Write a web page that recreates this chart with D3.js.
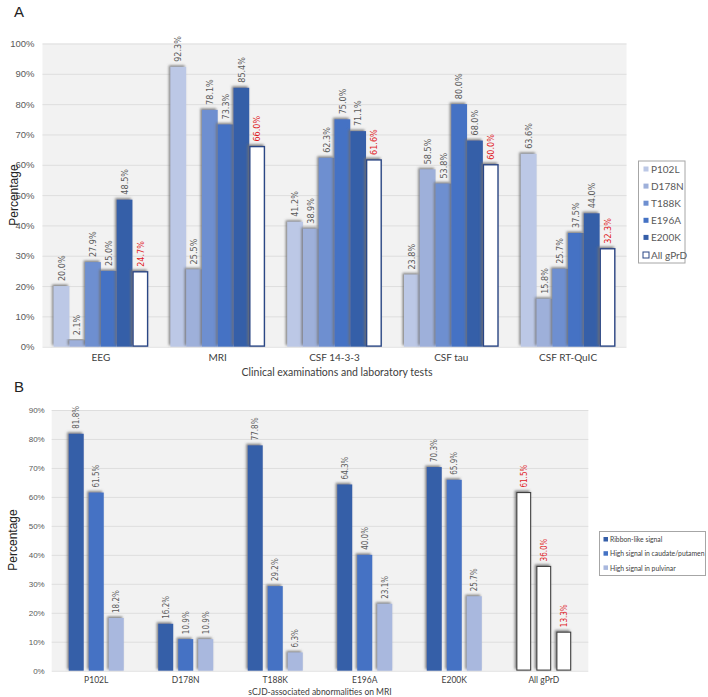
<!DOCTYPE html>
<html><head><meta charset="utf-8">
<script src="https://cdn.jsdelivr.net/npm/d3@7"></script>
<style>
body{margin:0;background:#fff;}
svg{display:block;font-family:Lato,"Liberation Sans",sans-serif;}
</style></head>
<body><svg id="c" width="708" height="697"></svg>
<script>
// ---- Panel A data ----
const testsA = ["EEG","MRI","CSF 14-3-3","CSF tau","CSF RT-QuIC"];
const seriesA = ["P102L","D178N","T188K","E196A","E200K","All gPrD"];
const P102L = [20.0, 92.3, 41.2, 23.8, 63.6];
const D178N = [2.1, 25.5, 38.9, 58.5, 15.8];
const T188K = [27.9, 78.1, 62.3, 53.8, 25.7];
const E196A = [25.0, 73.3, 75.0, 80.0, 37.5];
const E200K = [48.5, 85.4, 71.1, 68.0, 44.0];
const AllA  = [24.7, 66.0, 61.6, 60.0, 32.3];
const ticksA = [0,10,20,30,40,50,60,70,80,90,100];

// ---- Panel B data ----
const groupsB = ["P102L","D178N","T188K","E196A","E200K","All gPrD"];
const seriesB = ["Ribbon-like signal","High signal in caudate/putamen","High signal in pulvinar"];
const ribbon   = [81.8, 16.2, 77.8, 64.3, 70.3, 61.5];
const caudate  = [61.5, 10.9, 29.2, 40.0, 65.9, 36.0];
const pulvinar = [18.2, 10.9, 6.3, 23.1, 25.7, 13.3];
const ticksB = [0,10,20,30,40,50,60,70,80,90];

const svg = d3.select("#c");
const defs = svg.append("defs");
const f = defs.append("filter").attr("id","sh").attr("x","-50%").attr("y","-20%").attr("width","200%").attr("height","140%");
f.append("feDropShadow").attr("dx",-1.5).attr("dy",-1.5).attr("stdDeviation",1.1)
 .attr("flood-color","#6e6e6e").attr("flood-opacity",0.85);

const colA = ["#bcc8e6","#9eb0da","#6e8fd0","#4472c4","#355ea8","#ffffff"];
const colB = ["#355ea8","#4472c4","#a9b8de"];

// ================= Panel A =================
(function(){
  const L=42.5, R=626.5, T=43.5, B=346.7;
  const valsA = [P102L,D178N,T188K,E196A,E200K,AllA];
  const x0 = d3.scaleBand().domain(testsA).range([L,R]).paddingInner(0.19).paddingOuter(0.095);
  const x1 = d3.scaleBand().domain(seriesA).range([0,x0.bandwidth()]).padding(0);
  const y = d3.scaleLinear().domain([0,100]).range([B,T]);
  const g = svg.append("g");
  g.append("text").attr("x",14).attr("y",17).attr("font-size",15).attr("font-family","Liberation Sans, sans-serif").attr("fill","#222").text("A");
  g.append("rect").attr("x",L).attr("y",T).attr("width",R-L).attr("height",B-T).attr("fill","#f2f2f2");
  const ax = d3.axisLeft(y).tickValues(ticksA).tickFormat(d=>d+"%").tickSize(-(R-L)).tickPadding(8);
  const ga = g.append("g").attr("transform",`translate(${L},0)`).call(ax);
  ga.select(".domain").remove();
  ga.selectAll(".tick line").attr("stroke","#dedede");
  ga.selectAll(".tick text").attr("font-size",9.5).attr("fill","#595959");
  testsA.forEach((t,i)=>{
    const gg = g.append("g").attr("transform",`translate(${x0(t)},0)`);
    seriesA.forEach((s,j)=>{
      const v = valsA[j][i];
      const last = j===seriesA.length-1;
      gg.append("rect").attr("x",x1(s)+(last?0.6:0)).attr("y",y(v)).attr("width",x1.bandwidth()-(last?1.2:0)).attr("height",B-y(v)-(last?0.6:0))
        .attr("fill",colA[j]).attr("stroke",last?"#2b4785":"none").attr("stroke-width",last?1.4:0)
        .attr("filter","url(#sh)");
      const cx = x1(s)+x1.bandwidth()/2;
      gg.append("text").attr("transform",`translate(${cx+3.2},${y(v)-5}) rotate(-90)`)
        .attr("font-size",9).attr("fill",last?"#e0191f":"#595959")
        .attr("font-family","DejaVu Sans Condensed, DejaVu Sans, sans-serif")
        .text(v.toFixed(1)+"%");
    });
    g.append("text").attr("x",x0(t)+x0.bandwidth()/2).attr("y",361).attr("text-anchor","middle")
      .attr("font-size",10).attr("fill","#404040").text(t);
  });
  g.append("text").attr("x",337).attr("y",376).attr("text-anchor","middle").attr("font-size",10.5).attr("fill","#404040")
    .text("Clinical examinations and laboratory tests");
  g.append("text").attr("transform",`translate(18,${(T+B)/2}) rotate(-90)`).attr("text-anchor","middle")
    .attr("font-size",12).attr("font-family","Liberation Sans, sans-serif").attr("fill","#222").text("Percentage");
  // legend
  const lg = g.append("g");
  lg.append("rect").attr("x",638.5).attr("y",161).attr("width",46.5).attr("height",102).attr("fill","#fff").attr("stroke","#a6a6a6");
  seriesA.forEach((s,j)=>{
    const yy = 169.5 + j*17.1;
    const last = j===seriesA.length-1;
    lg.append("rect").attr("x",last?643:643.5).attr("y",yy-3).attr("width",last?6:5).attr("height",last?6:5)
      .attr("fill",colA[j]).attr("stroke",last?"#2b4785":"none").attr("stroke-width",1);
    lg.append("text").attr("x",651).attr("y",yy+3.5).attr("font-size",10).attr("fill","#595959").text(s);
  });
})();

// ================= Panel B =================
(function(){
  const L=51.7, R=588.3, T=410, B=670.7;
  const valsB = [ribbon,caudate,pulvinar];
  const x0 = d3.scaleBand().domain(groupsB).range([L,R]).paddingInner(0.385).paddingOuter(0.19);
  const x1 = d3.scaleBand().domain(seriesB).range([0,x0.bandwidth()]).paddingInner(0.25).paddingOuter(0);
  const y = d3.scaleLinear().domain([0,90]).range([B,T]);
  const g = svg.append("g");
  g.append("text").attr("x",14).attr("y",392).attr("font-size",15).attr("font-family","Liberation Sans, sans-serif").attr("fill","#222").text("B");
  g.append("rect").attr("x",L).attr("y",T).attr("width",R-L).attr("height",B-T).attr("fill","#f2f2f2");
  const ax = d3.axisLeft(y).tickValues(ticksB).tickFormat(d=>d+"%").tickSize(-(R-L)).tickPadding(7);
  const ga = g.append("g").attr("transform",`translate(${L},0)`).call(ax);
  ga.select(".domain").remove();
  ga.selectAll(".tick line").attr("stroke","#dedede");
  ga.selectAll(".tick text").attr("font-size",8).attr("fill","#595959");
  groupsB.forEach((t,i)=>{
    const gg = g.append("g").attr("transform",`translate(${x0(t)},0)`);
    const all = i===groupsB.length-1;
    seriesB.forEach((s,j)=>{
      const v = valsB[j][i];
      gg.append("rect").attr("x",x1(s)+(all?0.6:0)).attr("y",y(v)).attr("width",x1.bandwidth()-(all?1.2:0)).attr("height",B-y(v)-(all?0.6:0))
        .attr("fill",all?"#ffffff":colB[j]).attr("stroke",all?"#404040":"none").attr("stroke-width",all?1.1:0)
        .attr("filter","url(#sh)");
      const cx = x1(s)+x1.bandwidth()/2;
      gg.append("text").attr("transform",`translate(${cx+3},${y(v)-5}) rotate(-90)`)
        .attr("font-size",8).attr("fill",all?"#e0191f":"#595959")
        .attr("font-family","DejaVu Sans Condensed, DejaVu Sans, sans-serif")
        .text(v.toFixed(1)+"%");
    });
    g.append("text").attr("x",x0(t)+x0.bandwidth()/2).attr("y",683).attr("text-anchor","middle")
      .attr("font-size",8.5).attr("fill","#404040").text(t);
  });
  g.append("text").attr("x",320).attr("y",695).attr("text-anchor","middle").attr("font-size",8.5).attr("fill","#404040")
    .text("sCJD-associated abnormalities on MRI");
  g.append("text").attr("transform",`translate(17,540) rotate(-90)`).attr("text-anchor","middle")
    .attr("font-size",12).attr("font-family","Liberation Sans, sans-serif").attr("fill","#222").text("Percentage");
  const lg = g.append("g");
  lg.append("rect").attr("x",599.5).attr("y",531.5).attr("width",106).attr("height",44).attr("fill","#fff").attr("stroke","#a6a6a6");
  seriesB.forEach((s,j)=>{
    const yy = 539.5 + j*14.2;
    lg.append("rect").attr("x",603.5).attr("y",yy-2.5).attr("width",4.5).attr("height",4.5).attr("fill",colB[j]);
    lg.append("text").attr("x",610).attr("y",yy+2.6).attr("font-size",6.8).attr("fill","#404040").text(s);
  });
})();
</script>
</body></html>
